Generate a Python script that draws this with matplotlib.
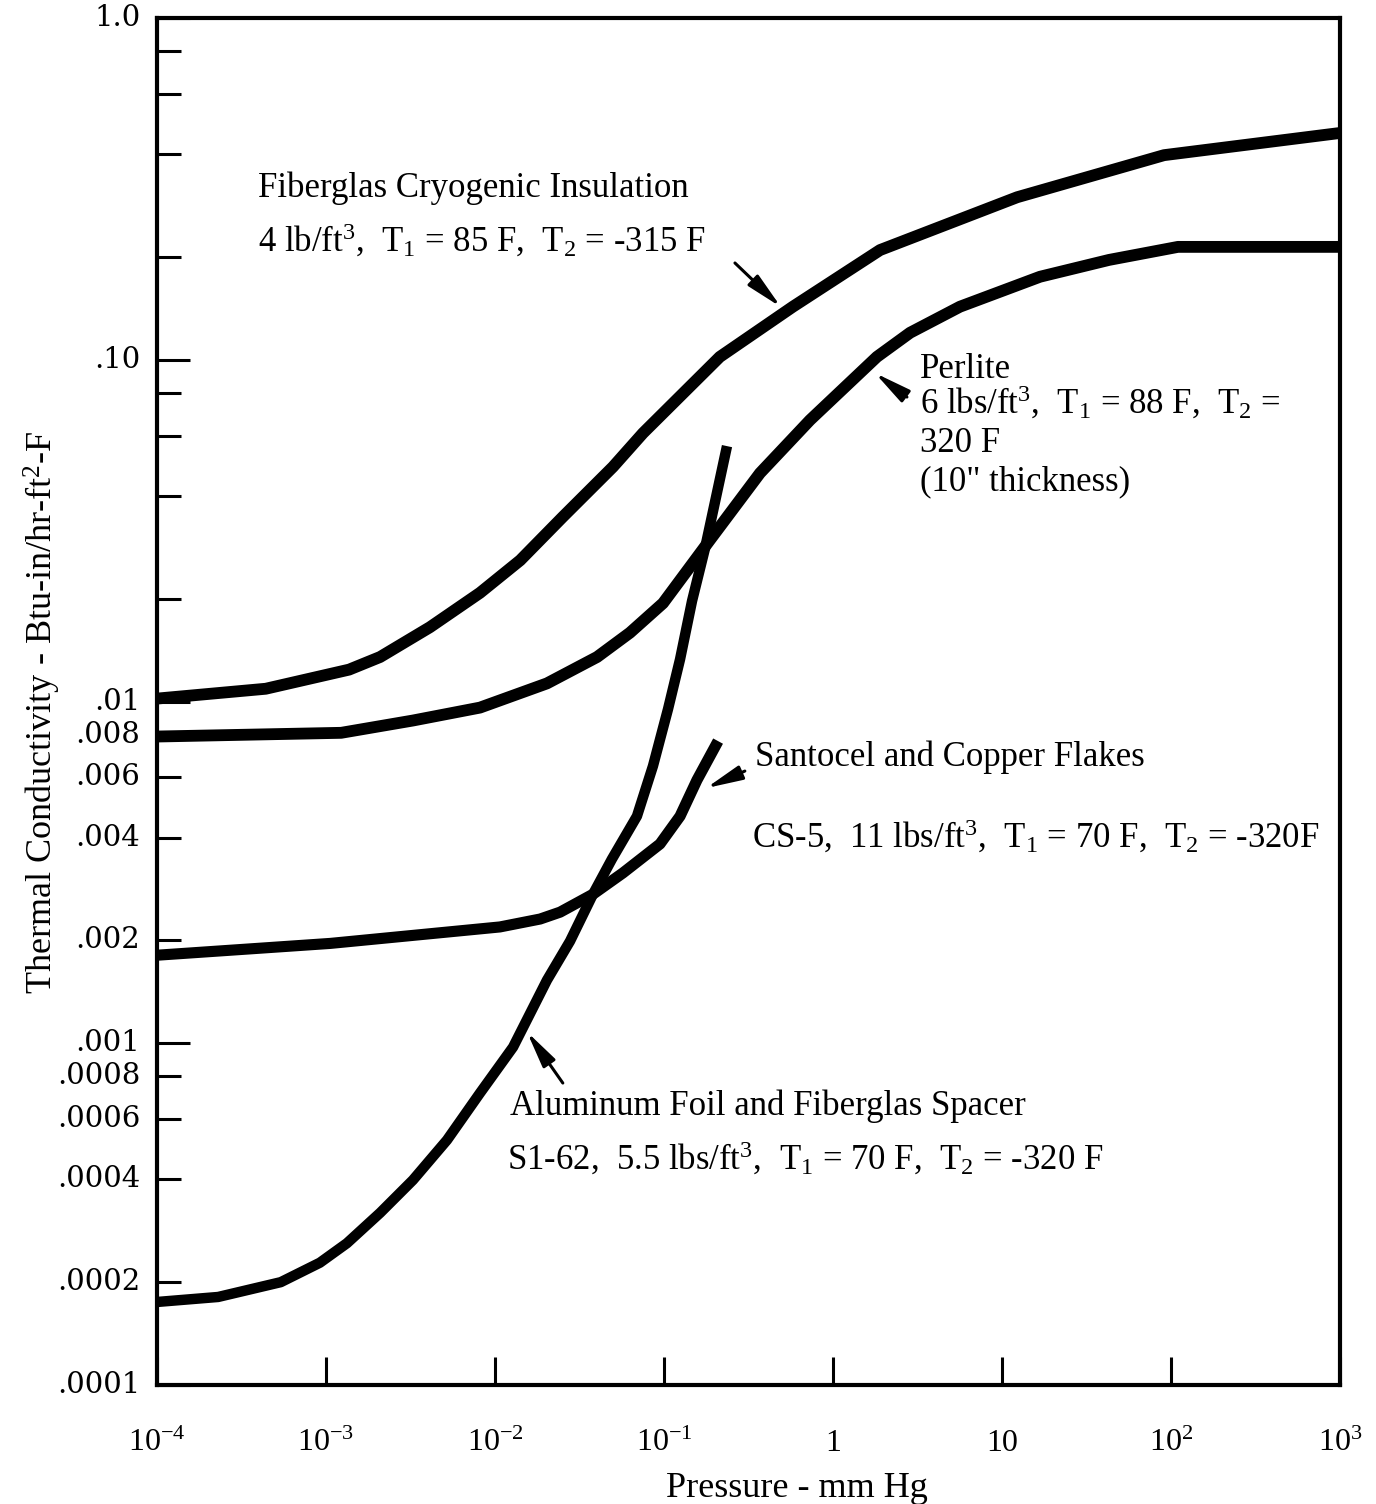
import numpy as np
import matplotlib.pyplot as plt
from matplotlib.ticker import FixedLocator, NullFormatter

plt.rcParams['font.family'] = ['Liberation Serif', 'DejaVu Serif']
plt.rcParams['mathtext.fontset'] = 'custom'
plt.rcParams['mathtext.rm'] = 'Liberation Serif'
plt.rcParams['mathtext.it'] = 'Liberation Serif:italic'
plt.rcParams['mathtext.bf'] = 'Liberation Serif:bold'

# pressure (mm Hg) vs thermal conductivity (Btu-in/hr-ft2-F)
fg_p = [1e-4, 4.4e-4, 1.37e-3, 2.09e-3, 4.12e-3, 8.15e-3, 0.0141, 0.0252, 0.0499, 0.0751,
        0.214, 0.579, 1.9, 12.3, 91, 1000]
fg_k = [0.0102, 0.0109, 0.0124, 0.0135, 0.0165, 0.0208, 0.0259, 0.0347, 0.0486, 0.0610,
        0.102, 0.143, 0.2095, 0.299, 0.397, 0.461]

pe_p = [1e-4, 1.23e-3, 3.27e-3, 8.15e-3, 0.0203, 0.0402, 0.0629, 0.0987, 0.187, 0.370,
        0.731, 1.82, 2.86, 5.64, 16.8, 43, 110, 1000]
pe_k = [0.0079, 0.0081, 0.0088, 0.0096, 0.0113, 0.0135, 0.0159, 0.0194, 0.0297, 0.0466,
        0.0666, 0.102, 0.120, 0.143, 0.175, 0.196, 0.214, 0.214]

al_p = [1e-4, 2.3e-4, 5.4e-4, 9.2e-4, 1.33e-3, 2.09e-3, 3.27e-3, 5.2e-3, 8.15e-3, 0.0128,
        0.0203, 0.0278, 0.038, 0.0492, 0.0692, 0.0861, 0.1057, 0.1245, 0.1466, 0.175, 0.236]
al_k = [1.75e-4, 1.81e-4, 2.0e-4, 2.28e-4, 2.6e-4, 3.19e-4, 3.98e-4, 5.21e-4, 7.15e-4, 9.75e-4,
        1.53e-3, 1.99e-3, 2.73e-3, 3.46e-3, 4.62e-3, 6.48e-3, 9.51e-3, 0.0133, 0.0197, 0.0281, 0.0559]

sc_p = [1e-4, 1.06e-3, 0.0107, 0.0185, 0.0243, 0.038, 0.0571, 0.0947, 0.1245, 0.1567, 0.209]
sc_k = [1.81e-3, 1.96e-3, 2.19e-3, 2.31e-3, 2.42e-3, 2.73e-3, 3.15e-3, 3.83e-3, 4.62e-3, 5.89e-3, 7.66e-3]

y_ticks = [1.0, 0.8, 0.6, 0.4, 0.2, 0.1, 0.08, 0.06, 0.04, 0.02, 0.01,
           0.008, 0.006, 0.004, 0.002, 0.001, 0.0008, 0.0006, 0.0004, 0.0002, 0.0001]
y_labels = ['1.0', '', '', '', '', '.10', '', '', '', '', '.01',
            '.008', '.006', '.004', '.002', '.001', '.0008', '.0006', '.0004', '.0002', '.0001']
y_major = [1.0, 0.1, 0.01, 0.001, 0.0001]

x_ticks = [1e-4, 1e-3, 1e-2, 1e-1, 1, 10, 1e2, 1e3]
x_labels = [r'$\mathregular{10^{-4}}$', r'$\mathregular{10^{-3}}$', r'$\mathregular{10^{-2}}$',
            r'$\mathregular{10^{-1}}$', '1', '10', r'$\mathregular{10^{2}}$', r'$\mathregular{10^{3}}$']

fig = plt.figure(figsize=(13.76, 15.04), dpi=100)
ax = fig.add_axes([0.1141, 0.0791, 0.8597, 0.9089])
ax.set_xscale('log')
ax.set_yscale('log')
ax.set_xlim(1e-4, 1e3)
ax.set_ylim(1e-4, 1.0)

line_kw = dict(color='black', solid_capstyle='butt', solid_joinstyle='round')
ax.plot(fg_p, fg_k, lw=8.5, **line_kw)
ax.plot(pe_p, pe_k, lw=8.5, **line_kw)
ax.plot(al_p, al_k, lw=7.5, **line_kw)
ax.plot(sc_p, sc_k, lw=8.0, **line_kw)

for s in ax.spines.values():
    s.set_linewidth(3)
    s.set_color('black')

# y axis: inward ticks, labels only where printed
ax.yaxis.set_major_locator(FixedLocator(y_major))
ax.yaxis.set_major_formatter(NullFormatter())
ax.yaxis.set_minor_locator(FixedLocator([t for t in y_ticks if t not in y_major]))
ax.yaxis.set_minor_formatter(NullFormatter())
ax.tick_params(axis='y', which='major', direction='in', length=24, width=2.2, left=True, right=False)
ax.tick_params(axis='y', which='minor', direction='in', length=17, width=2.2, left=True, right=False)
for t, lab in zip(y_ticks, y_labels):
    if lab:
        ax.text(-0.014, t, lab, transform=ax.get_yaxis_transform(), ha='right', va='center',
                fontsize=21, family='DejaVu Serif', clip_on=False)

# x axis: inward ticks at each decade
ax.xaxis.set_major_locator(FixedLocator(x_ticks))
ax.xaxis.set_major_formatter(NullFormatter())
ax.xaxis.set_minor_locator(FixedLocator([]))
ax.tick_params(axis='x', which='major', direction='in', length=20, width=2.2, bottom=True, top=False)
for t, lab in zip(x_ticks, x_labels):
    ax.text(t, -0.048, lab, transform=ax.get_xaxis_transform(), ha='center', va='baseline',
            fontsize=23, clip_on=False)

fig.text(42 / 1376, 1 - 712 / 1504, r'Thermal Conductivity - Btu-in/hr-ft$^2$-F', rotation=90,
         ha='center', va='center', fontsize=26)
fig.text(797 / 1376, 1 - 1497 / 1504, 'Pressure - mm Hg', ha='center', va='baseline', fontsize=26)


def axpos(x, y):
    return ((x - 157) / 1183, (1385 - y) / 1367)


notes = [
    (258, 197, 'Fiberglas Cryogenic Insulation'),
    (258, 252, r'4 lb/ft$^3$,  T$_1$ = 85 F,  T$_2$ = -315 F'),
    (920, 378, 'Perlite'),
    (920, 414, r'6 lbs/ft$^3$,  T$_1$ = 88 F,  T$_2$ ='),
    (920, 452, '320 F'),
    (920, 490, '(10" thickness)'),
    (755, 766, 'Santocel and Copper Flakes'),
    (752, 848, r'CS-5,  11 lbs/ft$^3$,  T$_1$ = 70 F,  T$_2$ = -320F'),
    (510, 1115, 'Aluminum Foil and Fiberglas Spacer'),
    (507, 1170, r'S1-62,  5.5 lbs/ft$^3$,  T$_1$ = 70 F,  T$_2$ = -320 F'),
]
for x, y, s in notes:
    ax.text(*axpos(x, y), s, transform=ax.transAxes, ha='left', va='baseline', fontsize=25)

# leader arrows from labels to curves
arrows = [
    ((0.492, 0.1427), (0.263, 0.192)),
    ((1.77, 0.0915), (2.74, 0.0778)),
    ((0.1774, 5.58e-3), (0.301, 6.26e-3)),
    ((0.01546, 1.08e-3), (0.0252, 7.65e-4)),
]
for head, tail in arrows:
    ax.annotate('', xy=head, xytext=tail,
                arrowprops=dict(arrowstyle='-|>,head_length=1.1,head_width=0.22',
                                color='black', lw=2.2, mutation_scale=20, shrinkA=0, shrinkB=0))

fig.savefig('out.png', dpi=100)
